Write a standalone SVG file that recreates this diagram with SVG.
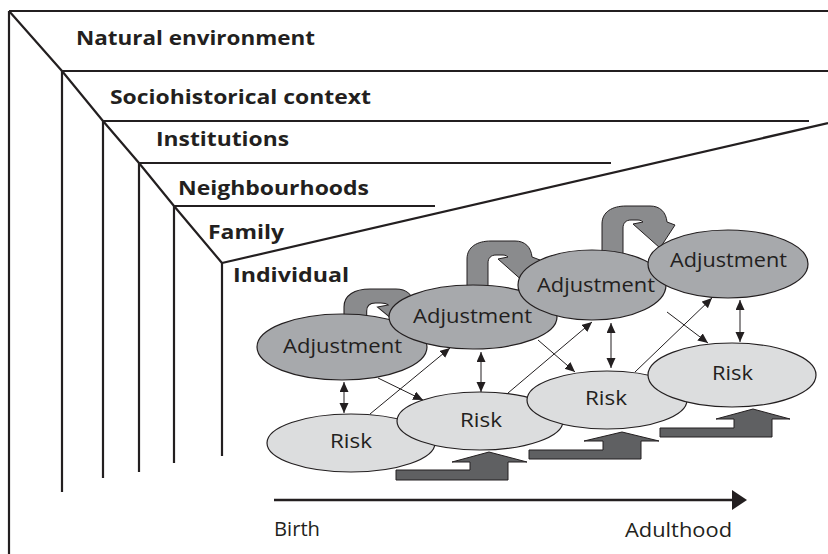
<svg xmlns="http://www.w3.org/2000/svg" width="828" height="554" viewBox="0 0 828 554">
<style>
.frame{fill:none;stroke:#231f20;stroke-width:2.2;stroke-linecap:butt}
.lbl{font-family:"Open Sans","DejaVu Sans",sans-serif;font-weight:700;font-size:20px;fill:#231f20}
.txt{font-family:"Open Sans","DejaVu Sans",sans-serif;font-size:20px;fill:#231f20}
.adj{fill:#a7a9ac;stroke:#231f20;stroke-width:1.2}
.risk{fill:#dcddde;stroke:#231f20;stroke-width:1.2}
.curl{fill:#8a8b8d;stroke:#231f20;stroke-width:1}
.block{fill:#5f6062;stroke:#231f20;stroke-width:1}
.thin{fill:none;stroke:#231f20;stroke-width:1}
</style>
<defs>
<marker id="ah" markerUnits="userSpaceOnUse" markerWidth="11" markerHeight="10" refX="10" refY="4.5" orient="auto-start-reverse">
<path d="M0,0 L10,4.5 L0,9 z" fill="#231f20"/>
</marker>
<path id="curlShape" d="M0 60 L0 18 C0 6 10 0 24 0 L48 0 C58 0 64 6 65 16 L73 19 L58 42 L31 18 L41 16 C39 14 37 14 34 14 L29 14 C24 14 21 17 21 22 L21 60 Z"/>
<marker id="tl" markerUnits="userSpaceOnUse" markerWidth="16" markerHeight="20" refX="2" refY="10" orient="auto">
<path d="M0,0 L15,10 L0,20 z" fill="#231f20"/>
</marker>
</defs>
<rect width="828" height="554" fill="#ffffff"/>
<g id="frame">
<polyline class="frame" points="9,11 62,71 103,121 139,163 174,206 222,263"/>
<line class="frame" x1="9" y1="11" x2="828" y2="11"/>
<line class="frame" x1="62" y1="71" x2="828" y2="71"/>
<line class="frame" x1="103" y1="121" x2="809" y2="121"/>
<line class="frame" x1="139" y1="163" x2="611" y2="163"/>
<line class="frame" x1="174" y1="206" x2="435" y2="206"/>
<line class="frame" x1="9" y1="11" x2="9" y2="554"/>
<line class="frame" x1="62" y1="71" x2="62" y2="492"/>
<line class="frame" x1="103" y1="121" x2="103" y2="478"/>
<line class="frame" x1="139" y1="163" x2="139" y2="472"/>
<line class="frame" x1="174" y1="206" x2="174" y2="463"/>
<line class="frame" x1="222" y1="263" x2="222" y2="456"/>
<line class="frame" x1="222" y1="263" x2="828" y2="123"/>
</g>
<g id="levels">
<text class="lbl" x="76" y="45" textLength="239" lengthAdjust="spacingAndGlyphs">Natural environment</text>
<text class="lbl" x="110" y="104" textLength="261" lengthAdjust="spacingAndGlyphs">Sociohistorical context</text>
<text class="lbl" x="156" y="146" textLength="133" lengthAdjust="spacingAndGlyphs">Institutions</text>
<text class="lbl" x="178" y="195" textLength="191" lengthAdjust="spacingAndGlyphs">Neighbourhoods</text>
<text class="lbl" x="208" y="239" textLength="76" lengthAdjust="spacingAndGlyphs">Family</text>
<text class="lbl" x="233" y="282" textLength="116" lengthAdjust="spacingAndGlyphs">Individual</text>
</g>
<g id="connectors">
<use href="#curlShape" class="curl" transform="translate(344,289) scale(1.08,1)"/>
<use href="#curlShape" class="curl" transform="translate(467,241)"/>
<use href="#curlShape" class="curl" transform="translate(602,206)"/>
<polygon class="block" points="396,470 470,470 470,462 452,462 489,452 527,462 508,462 508,480 396,480"/>
<polygon class="block" points="529,450 603,450 603,441 584,441 622,432 659,441 641,441 641,459 529,459"/>
<polygon class="block" points="660,428 734,428 734,419 716,419 753,409 790,419 772,419 772,437 660,437"/>
</g>
<g id="adj1"><ellipse class="adj" cx="342" cy="347" rx="85" ry="33"/><text class="txt" x="283" y="353" textLength="119" lengthAdjust="spacingAndGlyphs">Adjustment</text></g>
<g id="adj2"><ellipse class="adj" cx="473" cy="317" rx="84" ry="32"/><text class="txt" x="413" y="323" textLength="119" lengthAdjust="spacingAndGlyphs">Adjustment</text></g>
<g id="adj3"><ellipse class="adj" cx="592" cy="285" rx="74" ry="35"/><text class="txt" x="537" y="292" textLength="118" lengthAdjust="spacingAndGlyphs">Adjustment</text></g>
<g id="adj4"><ellipse class="adj" cx="728" cy="264" rx="80" ry="34"/><text class="txt" x="670" y="267" textLength="117" lengthAdjust="spacingAndGlyphs">Adjustment</text></g>
<g id="risk1"><ellipse class="risk" cx="351" cy="443" rx="84" ry="29"/><text class="txt" x="330" y="448" textLength="42" lengthAdjust="spacingAndGlyphs">Risk</text></g>
<g id="risk2"><ellipse class="risk" cx="480" cy="421" rx="83" ry="29"/><text class="txt" x="460" y="427" textLength="42" lengthAdjust="spacingAndGlyphs">Risk</text></g>
<g id="risk3"><ellipse class="risk" cx="607" cy="400" rx="80" ry="29"/><text class="txt" x="585" y="405" textLength="42" lengthAdjust="spacingAndGlyphs">Risk</text></g>
<g id="risk4"><ellipse class="risk" cx="732" cy="375" rx="84" ry="32"/><text class="txt" x="712" y="380" textLength="41" lengthAdjust="spacingAndGlyphs">Risk</text></g>
<g id="arrows">
<line class="thin" x1="344" y1="382" x2="344" y2="413" marker-start="url(#ah)" marker-end="url(#ah)"/>
<line class="thin" x1="481" y1="352" x2="481" y2="392" marker-start="url(#ah)" marker-end="url(#ah)"/>
<line class="thin" x1="611" y1="323" x2="611" y2="368" marker-start="url(#ah)" marker-end="url(#ah)"/>
<line class="thin" x1="740" y1="300" x2="740" y2="342" marker-start="url(#ah)" marker-end="url(#ah)"/>
<line class="thin" x1="378" y1="378" x2="423" y2="400" marker-end="url(#ah)"/>
<line class="thin" x1="370" y1="414" x2="450" y2="348" marker-end="url(#ah)"/>
<line class="thin" x1="538" y1="340" x2="575" y2="372" marker-end="url(#ah)"/>
<line class="thin" x1="508" y1="393" x2="592" y2="322" marker-end="url(#ah)"/>
<line class="thin" x1="667" y1="312" x2="708" y2="343" marker-end="url(#ah)"/>
<line class="thin" x1="635" y1="372" x2="712" y2="298" marker-end="url(#ah)"/>
</g>
<g id="timeline">
<line x1="274" y1="500" x2="733" y2="500" stroke="#231f20" stroke-width="2.6"/>
<polygon points="732,490 747,500 732,510" fill="#231f20"/>
<text class="txt" x="274" y="536" textLength="46" lengthAdjust="spacingAndGlyphs">Birth</text>
<text class="txt" x="625" y="537" textLength="107" lengthAdjust="spacingAndGlyphs">Adulthood</text>
</g>
</svg>
